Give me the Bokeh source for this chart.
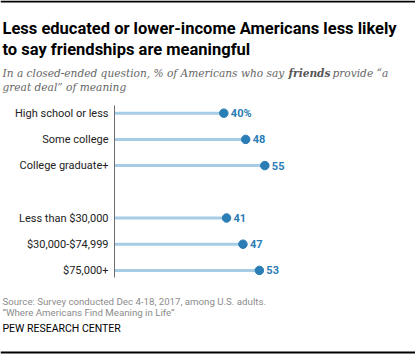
from bokeh.plotting import figure
from bokeh.models import Range1d, FixedTicker, Label, BoxAnnotation, ColumnDataSource, LinearAxis
from bokeh.core.properties import value
from bokeh.embed import file_html
from bokeh.resources import INLINE

# ---- data ----
edu_categories = ["High school or less", "Some college", "College graduate+"]
edu_values = [40, 48, 55]
income_categories = ["Less than $30,000", "$30,000-$74,999", "$75,000+"]
income_values = [41, 47, 53]

title_lines = ["Less educated or lower-income Americans less likely",
               "to say friendships are meaningful"]
source_lines = ["Source: Survey conducted Dec 4-18, 2017, among U.S. adults.",
                "\u201cWhere Americans Find Meaning in Life\u201d"]
credit = "PEW RESEARCH CENTER"

# ---- layout helpers ----
W, H = 415, 354
AXIS_X = 114          # pixel column of the value 0
PX_PER_UNIT = 2.733
ROW = 26.2
FIRST_ROW = 112.7
AXIS_TOP, AXIS_BOTTOM = 105, 277

categories = edu_categories + income_categories
values = edu_values + income_values
positions = list(range(len(edu_categories))) + \
    [len(edu_categories) + 1 + i for i in range(len(income_categories))]
labels = [f"{v}%" if i == 0 else f"{v}" for i, v in enumerate(values)]

src = ColumnDataSource(dict(cat=categories, val=values, pos=positions,
                            zero=[0] * len(values), lab=labels))


def row(py):
    return (py - FIRST_ROW) / ROW


p = figure(width=W, height=H, output_backend="svg", toolbar_location=None,
           x_range=Range1d(-AXIS_X / PX_PER_UNIT, (W - AXIS_X) / PX_PER_UNIT),
           y_range=Range1d(row(H), row(0)),
           x_axis_location=None, y_axis_location=None,
           min_border=0)
p.outline_line_color = None
p.grid.visible = False
p.background_fill_color = "white"
p.border_fill_color = "white"

ax = LinearAxis(fixed_location=0, bounds=(row(AXIS_TOP), row(AXIS_BOTTOM)))
ax.ticker = FixedTicker(ticks=positions)
ax.major_label_overrides = {pos: c for pos, c in zip(positions, categories)}
ax.major_tick_line_color = None
ax.major_tick_out = 0
ax.major_tick_in = 0
ax.minor_tick_line_color = None
ax.axis_line_color = "#6b6b6b"
ax.axis_line_width = 1
ax.major_label_text_font = "Roboto"
ax.major_label_text_font_size = "11px"
ax.major_label_text_color = "#222222"
ax.major_label_standoff = 6
p.add_layout(ax, "left")

BLUE = "#2a7db5"
LIGHT = "#a6cde5"
p.segment(x0="zero", y0="pos", x1="val", y1="pos", source=src,
          line_color=LIGHT, line_width=3)
p.scatter(x="val", y="pos", source=src, size=8.5, fill_color=BLUE,
          line_color=BLUE)
p.text(x="val", y="pos", text="lab", source=src, x_offset=7,
       text_baseline="middle", text_align="left",
       text_font=value("Roboto"), text_font_style="bold",
       text_font_size="11px", text_color=BLUE)


def lab(text, cx, cy, size, color, style="normal", font="Roboto"):
    p.add_layout(Label(x=cx, y=H - cy, x_units="screen",
                       y_units="screen", text=text, text_font=font,
                       text_font_size=size, text_color=color,
                       text_font_style=style, text_baseline="alphabetic",
                       text_align="left"))


lab(title_lines[0], 2, 28, "16.5px", "#000000", "bold")
lab(title_lines[1], 2, 49, "16.5px", "#000000", "bold")

SUB = "DejaVu Serif"
SUB_SIZE = "10.6px"
lab("In a closed-ended question, % of Americans who say", 2, 72, SUB_SIZE,
    "#666666", "italic", SUB)
lab("friends", 288, 72, SUB_SIZE, "#555555", "bold italic", SUB)
lab("provide \u201ca", 332, 72, SUB_SIZE, "#666666", "italic", SUB)
lab("great deal\u201d of meaning", 2, 86, SUB_SIZE, "#666666", "italic", SUB)

lab(source_lines[0], 2, 301, "9.7px", "#8c8c8c")
lab(source_lines[1], 2, 312, "9.7px", "#8c8c8c")
lab(credit, 2, 328, "10.5px", "#000000")

for top, bot in [(0, 2), (351, 353)]:
    p.add_layout(BoxAnnotation(left=0, right=W,
                               top=H - top, bottom=H - bot,
                               left_units="screen", right_units="screen",
                               top_units="screen", bottom_units="screen",
                               fill_color="black", fill_alpha=1,
                               line_color=None))

open("out.html", "w").write(file_html(p, INLINE))
